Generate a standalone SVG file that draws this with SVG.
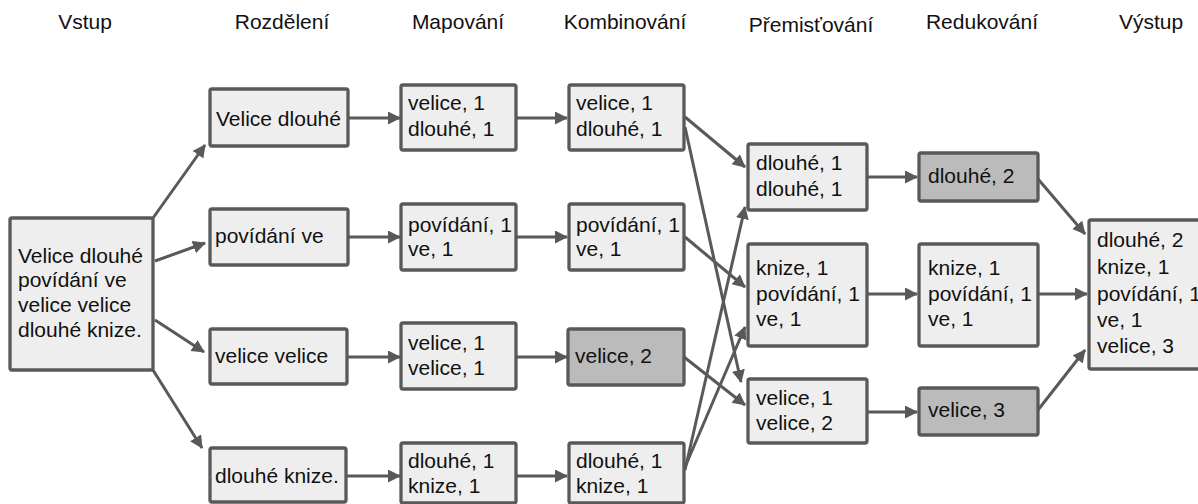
<svg xmlns="http://www.w3.org/2000/svg" width="1198" height="504" viewBox="0 0 1198 504">
<style>
text{font-family:"Liberation Sans",Arial,Helvetica,sans-serif;font-size:21px;fill:#111}
.h{text-anchor:middle}
.b{fill:#eeeeee;stroke:#595959;stroke-width:3.3}
.d{fill:#bbbbbb;stroke:#595959;stroke-width:3.3}
.c line{stroke:#595959;stroke-width:3;marker-end:url(#a)}
</style>
<defs>
<marker id="a" markerUnits="userSpaceOnUse" markerWidth="14" markerHeight="14" refX="12" refY="6.5" orient="auto">
<path d="M0,0 L13,6.5 L0,13 z" fill="#595959"/>
</marker>
</defs>
<rect width="1198" height="504" fill="#ffffff"/>
<g id="headers">
<text class="h" x="85" y="29">Vstup</text>
<text class="h" x="282" y="29">Rozdělení</text>
<text class="h" x="458" y="29">Mapování</text>
<text class="h" x="625" y="29">Kombinování</text>
<text class="h" x="811" y="32">Přemisťování</text>
<text class="h" x="982" y="29">Redukování</text>
<text class="h" x="1151" y="29">Výstup</text>
</g>
<g class="c" id="connectors">
<line x1="153" y1="218" x2="205" y2="145"/>
<line x1="155" y1="261" x2="205" y2="243"/>
<line x1="155" y1="320" x2="204" y2="352"/>
<line x1="153" y1="370" x2="202" y2="448"/>
<line x1="348" y1="118" x2="400" y2="118"/>
<line x1="348" y1="237" x2="400" y2="237"/>
<line x1="347" y1="357" x2="400" y2="357"/>
<line x1="346" y1="476" x2="400" y2="476"/>
<line x1="516" y1="118" x2="567" y2="118"/>
<line x1="516" y1="237" x2="567" y2="237"/>
<line x1="516" y1="357" x2="567" y2="357"/>
<line x1="516" y1="476" x2="567" y2="476"/>
<line x1="685" y1="117" x2="745" y2="167"/>
<line x1="685" y1="127" x2="741" y2="382"/>
<line x1="685" y1="237" x2="745" y2="287"/>
<line x1="684" y1="357" x2="745" y2="405"/>
<line x1="685" y1="470" x2="745" y2="207"/>
<line x1="685" y1="467" x2="745" y2="327"/>
<line x1="867" y1="177" x2="917" y2="177"/>
<line x1="867" y1="294" x2="917" y2="294"/>
<line x1="867" y1="412" x2="917" y2="412"/>
<line x1="1038" y1="179" x2="1085" y2="234"/>
<line x1="1038" y1="294" x2="1087" y2="294"/>
<line x1="1038" y1="410" x2="1085" y2="350"/>
</g>
<g id="input">
<rect class="b" x="10" y="218" width="143" height="152" rx="2"/>
<text x="18" y="263">Velice dlouhé</text>
<text x="18" y="287">povídání ve</text>
<text x="18" y="312">velice velice</text>
<text x="18" y="337">dlouhé knize.</text>
</g>
<g id="split1"><rect class="b" x="210" y="89" width="138" height="57" rx="2"/><text x="216" y="126">Velice dlouhé</text></g>
<g id="split2"><rect class="b" x="210" y="209" width="138" height="56" rx="2"/><text x="215" y="243">povídání ve</text></g>
<g id="split3"><rect class="b" x="210" y="329" width="137" height="55" rx="2"/><text x="215" y="363">velice velice</text></g>
<g id="split4"><rect class="b" x="210" y="448" width="136" height="54" rx="2"/><text x="215" y="483">dlouhé knize.</text></g>
<g id="map1"><rect class="b" x="401" y="85" width="115" height="65" rx="2"/><text x="408" y="110">velice, 1</text><text x="408" y="136">dlouhé, 1</text></g>
<g id="map2"><rect class="b" x="401" y="204" width="115" height="66" rx="2"/><text x="408" y="232">povídání, 1</text><text x="408" y="256">ve, 1</text></g>
<g id="map3"><rect class="b" x="401" y="323" width="115" height="66" rx="2"/><text x="408" y="350">velice, 1</text><text x="408" y="375">velice, 1</text></g>
<g id="map4"><rect class="b" x="401" y="443" width="115" height="60" rx="2"/><text x="408" y="468">dlouhé, 1</text><text x="408" y="493">knize, 1</text></g>
<g id="comb1"><rect class="b" x="569" y="85" width="115" height="65" rx="2"/><text x="576" y="110">velice, 1</text><text x="576" y="136">dlouhé, 1</text></g>
<g id="comb2"><rect class="b" x="569" y="204" width="115" height="66" rx="2"/><text x="576" y="232">povídání, 1</text><text x="576" y="256">ve, 1</text></g>
<g id="comb3"><rect class="d" x="568" y="329" width="116" height="56" rx="2"/><text x="575" y="363">velice, 2</text></g>
<g id="comb4"><rect class="b" x="569" y="443" width="115" height="60" rx="2"/><text x="576" y="468">dlouhé, 1</text><text x="576" y="493">knize, 1</text></g>
<g id="shuffle1"><rect class="b" x="748" y="144" width="119" height="66" rx="2"/><text x="756" y="170">dlouhé, 1</text><text x="756" y="196">dlouhé, 1</text></g>
<g id="shuffle2"><rect class="b" x="748" y="244" width="119" height="102" rx="2"/><text x="756" y="275">knize, 1</text><text x="756" y="301">povídání, 1</text><text x="756" y="326">ve, 1</text></g>
<g id="shuffle3"><rect class="b" x="748" y="379" width="119" height="64" rx="2"/><text x="756" y="405">velice, 1</text><text x="756" y="430">velice, 2</text></g>
<g id="reduce1"><rect class="d" x="919" y="153" width="119" height="48" rx="2"/><text x="928" y="183">dlouhé, 2</text></g>
<g id="reduce2"><rect class="b" x="919" y="244" width="119" height="102" rx="2"/><text x="928" y="275">knize, 1</text><text x="928" y="301">povídání, 1</text><text x="928" y="326">ve, 1</text></g>
<g id="reduce3"><rect class="d" x="919" y="388" width="119" height="47" rx="2"/><text x="928" y="417">velice, 3</text></g>
<g id="output"><rect class="b" x="1089" y="220" width="120" height="149" rx="2"/><text x="1097" y="247">dlouhé, 2</text><text x="1097" y="274">knize, 1</text><text x="1097" y="301">povídání, 1</text><text x="1097" y="327">ve, 1</text><text x="1097" y="353">velice, 3</text></g>
</svg>
